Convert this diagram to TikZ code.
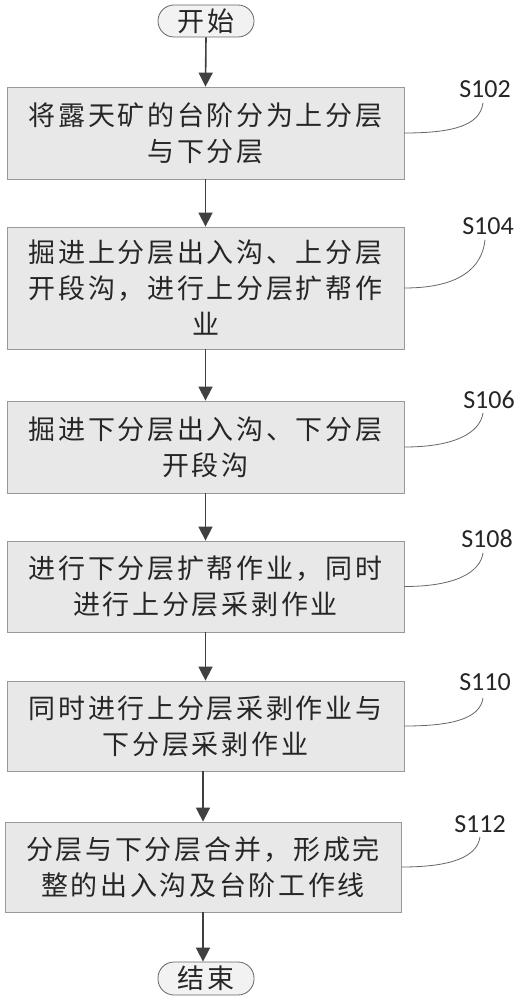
\documentclass[tikz,border=0pt]{standalone}
\usepackage{fontspec}
\newfontfamily\cjk[LetterSpace=10]{Noto Sans CJK SC}
\newfontfamily\lab{Carlito}
\usetikzlibrary{arrows.meta}
\tikzset{
  stepbox/.style={draw=black!40, line width=0.8pt, fill=black!9, minimum width=397pt, inner sep=0pt,
    align=center, font=\cjk\fontsize{27}{36}\selectfont, text=black!85},
  term/.style={draw=black!60, line width=0.8pt, fill=black!5, rounded corners=16pt, minimum width=96pt,
    minimum height=32pt, inner sep=0pt, font=\cjk\fontsize{27}{32}\selectfont, text=black!85},
  flow/.style={draw=black!75, line width=1.6pt, -{Triangle[length=14pt,width=14pt]}},
  steplabel/.style={font=\lab\fontsize{26}{30}\selectfont, anchor=base, inner sep=0pt, text=black!85},
  leader/.style={draw=black!60, line width=0.8pt}
}
\begin{document}
\begin{tikzpicture}[x=1pt,y=-1pt]
\useasboundingbox[fill=white] (0,0) rectangle (516,1000);
\node[term] (start) at (206,21) {开始};
\node[stepbox, minimum height=92pt] (b1) at (205.5,133) {将露天矿的台阶分为上分层\\与下分层};
\node[stepbox, minimum height=122pt] (b2) at (205.5,288) {掘进上分层出入沟、上分层\\开段沟，进行上分层扩帮作\\业};
\node[stepbox, minimum height=92pt] (b3) at (205.5,447) {掘进下分层出入沟、下分层\\开段沟};
\node[stepbox, minimum height=91pt] (b4) at (205.5,586.5) {进行下分层扩帮作业，同时\\进行上分层采剥作业};
\node[stepbox, minimum height=90pt] (b5) at (205.5,726) {同时进行上分层采剥作业与\\下分层采剥作业};
\node[stepbox, minimum height=90pt, minimum width=396pt] (b6) at (203,867) {分层与下分层合并，形成完\\整的出入沟及台阶工作线};
\node[term, minimum height=33pt] (stop) at (206,978.5) {结束};

\draw[flow] (start.south) -- (b1.north);
\draw[flow] (b1.south) -- (b2.north);
\draw[flow] (b2.south) -- (b3.north);
\draw[flow] (b3.south) -- (b4.north);
\draw[flow] (b4.south) -- (b5.north);
\draw[flow] (b6.north |- b5.south) -- (b6.north);
\draw[flow] (b6.south) -- (b6.south |- stop.north);

\node[steplabel] (l1) at (485,98) {S102};
\node[steplabel] (l2) at (488,235) {S104};
\node[steplabel] (l3) at (489,408) {S106};
\node[steplabel] (l4) at (487,547) {S108};
\node[steplabel] (l5) at (485,690) {S110};
\node[steplabel] (l6) at (480,832) {S112};
\coordinate (c1) at (483,103);
\coordinate (c2) at (485,240);
\coordinate (c3) at (483,413);
\coordinate (c4) at (483,553);
\coordinate (c5) at (483,698);
\coordinate (c6) at (480,837);
\draw[leader] (b1.east) .. controls +(50,0) and +(-3,22) .. (c1);
\draw[leader] (b2.east) .. controls +(55,0) and +(-3,28) .. (c2);
\draw[leader] (b3.east) .. controls +(50,0) and +(-3,20) .. (c3);
\draw[leader] (b4.east) .. controls +(50,0) and +(-3,20) .. (c4);
\draw[leader] (b5.east) .. controls +(50,0) and +(-3,20) .. (c5);
\draw[leader] (b6.east) .. controls +(50,0) and +(-3,20) .. (c6);
\end{tikzpicture}
\end{document}
